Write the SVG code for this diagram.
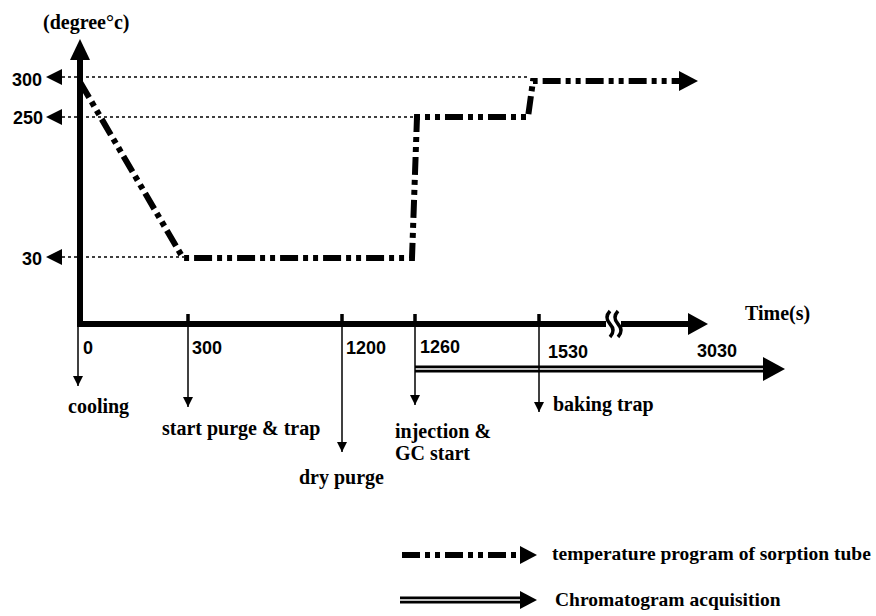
<svg xmlns="http://www.w3.org/2000/svg" width="876" height="616" viewBox="0 0 876 616">
<style>
.lbl{font-family:"Liberation Serif","Times New Roman",serif;font-weight:bold;font-size:20px;fill:#000}
.leg{font-family:"Liberation Serif","Times New Roman",serif;font-weight:bold;font-size:19.5px;fill:#000}
.num{font-family:"Liberation Sans",Arial,sans-serif;font-weight:bold;font-size:18px;fill:#000}
.axis{stroke:#000;stroke-width:6;fill:none}
.dot{stroke:#000;stroke-width:1.5;stroke-dasharray:3 3;fill:none}
.thin{stroke:#000;stroke-width:1.5;fill:none}
.prog{stroke:#000;stroke-width:6;fill:none;stroke-dasharray:18 5 5 5 5 5;stroke-linejoin:miter}
.tick{stroke:#000;stroke-width:3.5;fill:none}
</style>
<defs>
<marker id="down" markerWidth="10" markerHeight="10" refX="10" refY="5" orient="auto" markerUnits="userSpaceOnUse" viewBox="0 0 10 10">
<path d="M0,0 L10,5 L0,10 Z" fill="#000"/>
</marker>
</defs>
<rect width="876" height="616" fill="#fff"/>

<g id="connectors">
<!-- y axis -->
<line class="axis" x1="80" y1="58" x2="80" y2="327"/>
<polygon points="80,39 70,60 90,60" fill="#000"/>
<!-- x axis -->
<line class="axis" x1="77" y1="324" x2="606" y2="324"/>
<line class="axis" x1="621" y1="324" x2="690" y2="324"/>
<polygon points="708,324 688,313 688,335" fill="#000"/>
<path d="M610,311 q-6,6.5 0,13 q6,6.5 0,13" stroke="#000" stroke-width="3.5" fill="none"/>
<path d="M618,311 q-6,6.5 0,13 q6,6.5 0,13" stroke="#000" stroke-width="3.5" fill="none"/>
<!-- ticks -->
<line class="tick" x1="188" y1="314" x2="188" y2="324"/>
<line class="tick" x1="342" y1="314" x2="342" y2="324"/>
<line class="tick" x1="415" y1="314" x2="415" y2="324"/>
<line class="tick" x1="539" y1="314" x2="539" y2="324"/>
<!-- dotted reference lines -->
<line class="dot" x1="62" y1="77" x2="530" y2="77"/>
<line class="dot" x1="62" y1="117" x2="413" y2="117"/>
<line class="dot" x1="62" y1="257" x2="184" y2="257"/>
<polygon points="46,77 62,69 62,85" fill="#000"/>
<polygon points="46,117 62,109 62,125" fill="#000"/>
<polygon points="46,257 62,249 62,265" fill="#000"/>
<!-- temperature program -->
<path class="prog" d="M80,82 L183,258 L412,258 L417,117 L528,117 L533,81 L682,81"/>
<polygon points="698,81 679,71 679,91" fill="#000"/>
<!-- chromatogram acquisition -->
<line x1="415" y1="369" x2="765" y2="369" stroke="#000" stroke-width="7"/>
<line x1="415" y1="369" x2="765" y2="369" stroke="#fff" stroke-width="1.5"/>
<polygon points="785,369 763,357 763,381" fill="#000"/>
<!-- event arrows -->
<line class="thin" x1="78" y1="326" x2="78" y2="386" marker-end="url(#down)"/>
<line class="thin" x1="188" y1="324" x2="188" y2="407" marker-end="url(#down)"/>
<line class="thin" x1="342" y1="324" x2="342" y2="452" marker-end="url(#down)"/>
<line class="thin" x1="415" y1="324" x2="415" y2="405" marker-end="url(#down)"/>
<line class="thin" x1="539" y1="324" x2="539" y2="412" marker-end="url(#down)"/>
</g>

<g id="axis-labels">
<text class="lbl" x="43" y="29">(degree°c)</text>
<text class="lbl" x="745" y="320">Time(s)</text>
<text class="num" x="42" y="86" text-anchor="end">300</text>
<text class="num" x="43" y="124" text-anchor="end">250</text>
<text class="num" x="42" y="265" text-anchor="end">30</text>
<text class="num" x="83" y="354">0</text>
<text class="num" x="192" y="354">300</text>
<text class="num" x="346" y="354">1200</text>
<text class="num" x="420" y="353">1260</text>
<text class="num" x="548" y="358">1530</text>
<text class="num" x="697" y="357">3030</text>
</g>

<g id="event-cooling"><text class="lbl" x="68" y="413">cooling</text></g>
<g id="event-purge"><text class="lbl" x="162" y="435">start purge &amp; trap</text></g>
<g id="event-dry"><text class="lbl" x="299" y="484">dry purge</text></g>
<g id="event-injection"><text class="lbl" x="395" y="438">injection &amp;</text><text class="lbl" x="395" y="460">GC start</text></g>
<g id="event-baking"><text class="lbl" x="553" y="411">baking trap</text></g>

<g id="legend">
<line class="prog" x1="402" y1="555" x2="522" y2="555"/>
<polygon points="537,555 520,546 520,564" fill="#000"/>
<text class="leg" x="552" y="560">temperature program of sorption tube</text>
<line x1="400" y1="600" x2="522" y2="600" stroke="#000" stroke-width="7"/>
<line x1="400" y1="600" x2="522" y2="600" stroke="#fff" stroke-width="1.5"/>
<polygon points="537,600 520,591 520,609" fill="#000"/>
<text class="leg" x="555" y="606">Chromatogram acquisition</text>
</g>
</svg>
